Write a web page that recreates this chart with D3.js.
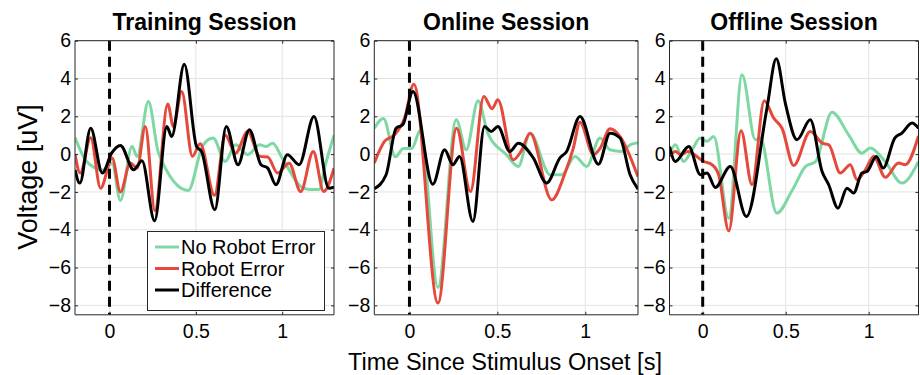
<!DOCTYPE html>
<html>
<head>
<meta charset="utf-8">
<script src="https://cdn.jsdelivr.net/npm/d3@7"></script>
<style>
  body { margin: 0; background: #fff; }
  svg text { font-family: "Liberation Sans", Arial, sans-serif; fill: #000; }
  .grid line { stroke: #e3e3e3; stroke-width: 1; }
</style>
</head>
<body>
<div id="chart"></div>
<script>
// session titles and series names
const sessions = ['Training Session', 'Online Session', 'Offline Session'];
const seriesNames = ['No Robot Error', 'Robot Error', 'Difference'];
const xTicks = [0, 0.5, 1];
const yTicks = [-8, -6, -4, -2, 0, 2, 4, 6];

// [time (s), voltage (uV)]
const trainingNoError = [[-0.2,0.88],[-0.14,-0.3],[-0.09,-0.7],[-0.042,-0.85],[0.015,-0.5],[0.063,-2.45],[0.13,0.4],[0.16,-0.12],[0.225,2.78],[0.284,0.05],[0.456,-1.92],[0.54,0.45],[0.6,0.85],[0.67,-0.39],[0.73,0.49],[0.8,-0.03],[0.87,0.49],[0.905,0.4],[0.945,0.57],[1.0,-0.21],[1.107,-1.71],[1.155,-1.87],[1.213,-1.87],[1.25,-0.56],[1.3,1.0]];
const trainingError = [[-0.2,0],[-0.17,-1.0],[-0.109,0.87],[-0.052,-1.8],[0.015,-0.2],[0.063,-2.0],[0.12,-0.47],[0.16,-0.74],[0.207,1.46],[0.263,-3.0],[0.337,2.65],[0.37,1.46],[0.418,3.31],[0.48,-0.12],[0.525,0.55],[0.608,-2.18],[0.67,1.0],[0.73,0.05],[0.8,1.2],[0.87,-0.12],[0.916,-0.15],[0.973,-1.0],[1.04,-0.48],[1.107,-1.98],[1.18,0.14],[1.24,-1.98],[1.3,-0.75]];
const trainingDiff = [[-0.2,-0.83],[-0.172,-1.53],[-0.109,1.37],[-0.042,-1.0],[0.012,0.05],[0.063,0.46],[0.14,-0.83],[0.188,-0.35],[0.261,-3.53],[0.332,1.46],[0.36,0.93],[0.433,4.76],[0.504,0.4],[0.533,0.14],[0.61,-2.94],[0.676,1.46],[0.744,-0.56],[0.81,1.29],[0.877,-0.56],[0.916,-0.74],[0.964,-1.62],[1.03,-0.03],[1.098,-0.56],[1.184,1.99],[1.27,-1.8],[1.3,-1.75]];

const onlineNoError = [[-0.2,1.37],[-0.148,1.89],[-0.08,-0.14],[-0.035,0.3],[0.013,0.3],[0.063,1.27],[0.162,-7.05],[0.266,1.82],[0.323,0.23],[0.39,2.82],[0.446,1.1],[0.552,-0.03],[0.619,-0.65],[0.686,1.11],[0.8,-1.09],[0.866,-1.09],[0.942,-0.12],[1.008,-0.65],[1.084,0.85],[1.141,0.23],[1.207,0.14],[1.255,0.49],[1.3,0.6]];
const onlineError = [[-0.2,-0.47],[-0.142,0.67],[-0.085,1.02],[-0.028,1.9],[0.025,3.7],[0.162,-7.88],[0.268,1.37],[0.347,-1.98],[0.423,3.05],[0.47,2.4],[0.503,2.88],[0.59,-0.3],[0.638,0.2],[0.686,1.11],[0.809,-2.42],[0.885,-1.0],[0.932,0.32],[0.97,1.69],[1.046,-0.03],[1.084,0.3],[1.141,1.34],[1.198,0.93],[1.3,-1.2]];
const onlineDiff = [[-0.2,-1.83],[-0.133,-1.09],[-0.076,1.37],[-0.038,1.55],[0.02,3.31],[0.133,-1.59],[0.2,0.23],[0.247,-0.56],[0.285,-0.12],[0.361,-3.56],[0.427,1.46],[0.465,1.2],[0.503,1.46],[0.571,0.14],[0.619,0.58],[0.705,-0.21],[0.78,-1.53],[0.856,-0.2],[0.894,0.14],[0.97,1.99],[1.075,-0.53],[1.141,1.11],[1.198,0.85],[1.255,-1.09],[1.3,-1.85]];

const offlineNoError = [[-0.2,-0.03],[-0.165,0.49],[-0.115,-0.39],[-0.064,0.23],[-0.015,0.85],[0.026,0.68],[0.066,0.93],[0.157,-3.39],[0.237,4.2],[0.317,0.76],[0.347,0.85],[0.446,-3.12],[0.54,-1.9],[0.62,-0.65],[0.68,-0.4],[0.779,2.22],[0.879,1.02],[0.959,0.05],[1.009,0.32],[1.1,-0.4],[1.2,-1.53],[1.3,-0.39]];
const offlineError = [[-0.2,-0.12],[-0.165,0.14],[-0.13,-0.03],[-0.09,0.14],[0.006,-0.39],[0.056,-0.56],[0.096,-1.09],[0.157,-4.06],[0.231,1.23],[0.297,-1.62],[0.371,2.82],[0.428,1.9],[0.478,1.37],[0.548,-0.6],[0.648,1.2],[0.72,0.58],[0.76,0.49],[0.829,-1.0],[0.889,-0.56],[0.93,-1.36],[0.98,-0.83],[1.03,-0.12],[1.1,-1.23],[1.18,-0.47],[1.22,-0.56],[1.3,0.96]];
const offlineDiff = [[-0.2,0.4],[-0.165,-0.39],[-0.084,0.4],[-0.014,-1.09],[0.026,-1.0],[0.076,-1.76],[0.166,-0.65],[0.263,-3.3],[0.387,2.43],[0.443,5.04],[0.5,2.6],[0.568,0.76],[0.648,1.82],[0.719,-0.92],[0.759,-1.62],[0.815,-2.86],[0.869,-1.8],[0.909,-2.06],[0.959,-1.0],[0.99,-0.92],[1.046,-0.12],[1.087,-0.74],[1.157,0.85],[1.2,1.11],[1.261,1.64],[1.3,1.37]];

const panelData = [
  [trainingNoError, trainingError, trainingDiff],
  [onlineNoError, onlineError, onlineDiff],
  [offlineNoError, offlineError, offlineDiff]
];

const colors = ['#7ed8a4', '#e5493b', '#000000'];
const width = 920, height = 375;
const plotTop = 40.7, plotBottom = 314.8;
const panels = [{left: 75, right: 334}, {left: 374.3, right: 638}, {left: 669.5, right: 918.5}];

const svg = d3.select('#chart').append('svg')
  .attr('width', width)
  .attr('height', height);

const y = d3.scaleLinear().domain([-8.5, 6]).range([plotBottom, plotTop]);

panels.forEach((p, i) => {
  const x = d3.scaleLinear().domain([-0.2, 1.3]).range([p.left, p.right]);
  const g = svg.append('g');

  // grid
  const grid = g.append('g').attr('class', 'grid');
  grid.selectAll('.gx').data(xTicks).enter().append('line')
    .attr('x1', d => x(d)).attr('x2', d => x(d))
    .attr('y1', plotTop).attr('y2', plotBottom);
  grid.selectAll('.gy').data(yTicks).enter().append('line')
    .attr('x1', p.left).attr('x2', p.right)
    .attr('y1', d => y(d)).attr('y2', d => y(d));

  // clip
  svg.append('clipPath').attr('id', 'clip' + i)
    .append('rect')
    .attr('x', p.left).attr('y', plotTop)
    .attr('width', p.right - p.left).attr('height', plotBottom - plotTop);

  const line = d3.line()
    .x(d => x(d[0]))
    .y(d => y(d[1]))
    .curve(d3.curveMonotoneX);

  const plot = g.append('g').attr('clip-path', `url(#clip${i})`);
  panelData[i].forEach((s, k) => {
    plot.append('path')
      .datum(s)
      .attr('fill', 'none')
      .attr('stroke', colors[k])
      .attr('stroke-width', 3)
      .attr('stroke-linejoin', 'round')
      .attr('d', line);
  });

  // stimulus onset
  plot.append('line')
    .attr('x1', x(0)).attr('x2', x(0))
    .attr('y1', plotTop).attr('y2', plotBottom)
    .attr('stroke', '#000')
    .attr('stroke-width', 3)
    .attr('stroke-dasharray', '10,6');

  // axes (MATLAB style, ticks inside, box)
  const axB = g.append('g')
    .attr('transform', `translate(0,${plotBottom})`)
    .call(d3.axisBottom(x).tickValues(xTicks).tickSize(-3).tickPadding(9).tickFormat(d3.format('')));
  const axT = g.append('g')
    .attr('transform', `translate(0,${plotTop})`)
    .call(d3.axisTop(x).tickValues(xTicks).tickSize(-3).tickFormat(''));
  const axL = g.append('g')
    .attr('transform', `translate(${p.left},0)`)
    .call(d3.axisLeft(y).tickValues(yTicks).tickSize(-3).tickPadding(4));
  const axR = g.append('g')
    .attr('transform', `translate(${p.right},0)`)
    .call(d3.axisRight(y).tickValues(yTicks).tickSize(-3).tickFormat(''));
  [axB, axT, axL, axR].forEach(a => {
    a.select('.domain').attr('stroke', '#262626').attr('stroke-width', 1);
    a.selectAll('.tick line').attr('stroke', '#262626');
    a.selectAll('.tick text')
      .style('font-family', '"Liberation Sans", Arial, sans-serif')
      .style('font-size', '19.5px')
      .attr('fill', '#000');
  });
  axB.selectAll('.domain').attr('d', `M${p.left},0H${p.right}`);
  axT.selectAll('.domain').attr('d', `M${p.left},0H${p.right}`);
  axL.selectAll('.domain').attr('d', `M0,${plotTop}V${plotBottom}`);
  axR.selectAll('.domain').attr('d', `M0,${plotTop}V${plotBottom}`);

  // title
  g.append('text')
    .attr('x', (p.left + p.right) / 2)
    .attr('y', 30)
    .attr('text-anchor', 'middle')
    .style('font-size', '23px')
    .style('font-weight', 'bold')
    .text(sessions[i]);
});

// legend in the first panel
const legend = svg.append('g');
legend.append('rect')
  .attr('x', 147.5).attr('y', 231.5)
  .attr('width', 177).attr('height', 79)
  .attr('fill', '#fff')
  .attr('stroke', '#262626')
  .attr('stroke-width', 1);
seriesNames.forEach((name, k) => {
  const ly = 247 + k * 21.5;
  legend.append('line')
    .attr('x1', 155).attr('x2', 179)
    .attr('y1', ly).attr('y2', ly)
    .attr('stroke', colors[k])
    .attr('stroke-width', 3);
  legend.append('text')
    .attr('x', 181)
    .attr('y', ly + 7)
    .style('font-size', '20px')
    .text(name);
});

// axis labels
svg.append('text')
  .attr('x', 505)
  .attr('y', 370)
  .attr('text-anchor', 'middle')
  .style('font-size', '23.5px')
  .text('Time Since Stimulus Onset [s]');

svg.append('text')
  .attr('transform', 'translate(36.5,177) rotate(-90)')
  .attr('text-anchor', 'middle')
  .style('font-size', '27px')
  .text('Voltage [uV]');
</script>
</body>
</html>
